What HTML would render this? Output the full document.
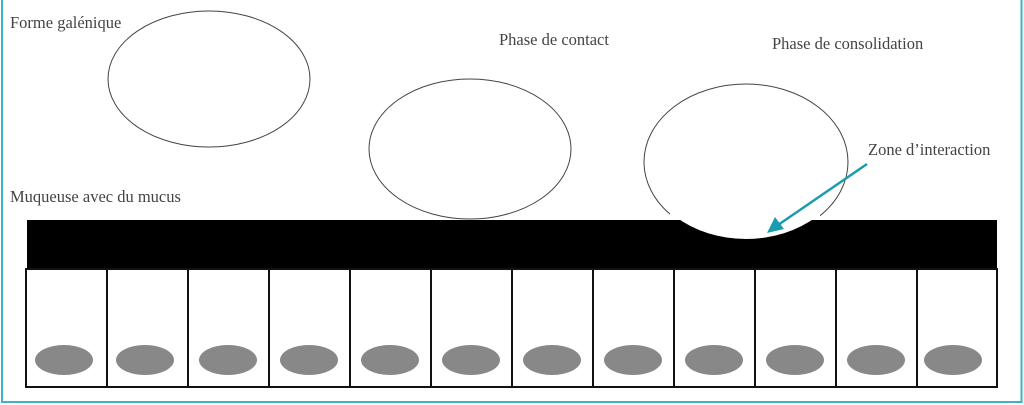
<!DOCTYPE html>
<html><head><meta charset="utf-8">
<style>
html,body{margin:0;padding:0;background:#fff;}
svg{display:block;}
text{font-family:"Liberation Serif",serif;font-size:16.5px;fill:#444;}
</style></head>
<body>
<svg width="1024" height="405" viewBox="0 0 1024 405" xmlns="http://www.w3.org/2000/svg">
<rect x="0" y="0" width="1024" height="405" fill="#fff"/>
<path d="M2 0 V402 H1021.5 V0" fill="none" stroke="#3ab3c6" stroke-width="2"/>
<text x="10" y="28">Forme galénique</text>
<text x="499" y="45">Phase de contact</text>
<text x="772" y="49">Phase de consolidation</text>
<text x="868" y="155">Zone d’interaction</text>
<text x="10" y="202">Muqueuse avec du mucus</text>
<ellipse cx="209" cy="79" rx="101" ry="68" fill="#fff" stroke="#444" stroke-width="1"/>
<ellipse cx="470" cy="149" rx="101" ry="70" fill="#fff" stroke="#444" stroke-width="1"/>
<ellipse cx="746" cy="162" rx="102" ry="78" fill="#fff" stroke="#444" stroke-width="1"/>
<rect x="27" y="220" width="970" height="49" fill="#000"/>
<ellipse cx="746" cy="162" rx="100" ry="77" fill="#fff"/>
<rect x="670" y="207" width="150" height="13" fill="#fff"/>
<rect x="26" y="269" width="971" height="118" fill="#fff" stroke="#111" stroke-width="2"/>
<g stroke="#111" stroke-width="2">
<line x1="107" y1="269" x2="107" y2="387"/>
<line x1="188" y1="269" x2="188" y2="387"/>
<line x1="269" y1="269" x2="269" y2="387"/>
<line x1="350" y1="269" x2="350" y2="387"/>
<line x1="431" y1="269" x2="431" y2="387"/>
<line x1="512" y1="269" x2="512" y2="387"/>
<line x1="593" y1="269" x2="593" y2="387"/>
<line x1="674" y1="269" x2="674" y2="387"/>
<line x1="755" y1="269" x2="755" y2="387"/>
<line x1="836" y1="269" x2="836" y2="387"/>
<line x1="917" y1="269" x2="917" y2="387"/>
</g>
<g fill="#888">
<ellipse cx="64" cy="360" rx="29" ry="15"/>
<ellipse cx="145" cy="360" rx="29" ry="15"/>
<ellipse cx="228" cy="360" rx="29" ry="15"/>
<ellipse cx="309" cy="360" rx="29" ry="15"/>
<ellipse cx="390" cy="360" rx="29" ry="15"/>
<ellipse cx="471" cy="360" rx="29" ry="15"/>
<ellipse cx="552" cy="360" rx="29" ry="15"/>
<ellipse cx="633" cy="360" rx="29" ry="15"/>
<ellipse cx="714" cy="360" rx="29" ry="15"/>
<ellipse cx="795" cy="360" rx="29" ry="15"/>
<ellipse cx="876" cy="360" rx="29" ry="15"/>
<ellipse cx="953" cy="360" rx="29" ry="15"/>
</g>
<line x1="867" y1="164" x2="778" y2="225" stroke="#1a9bb0" stroke-width="2.5"/>
<polygon points="767,233 775,217 784,229" fill="#1a9bb0"/>
</svg>
</body></html>
